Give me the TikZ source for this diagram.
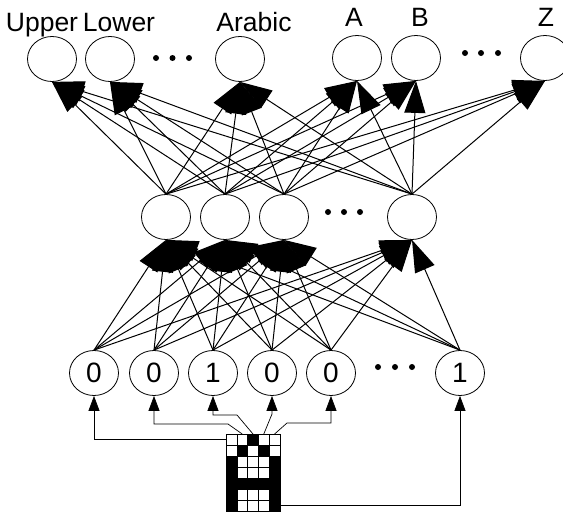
\documentclass[tikz,border=0pt]{standalone}
\usepackage{fontspec}
\setmainfont{Liberation Sans}
\usetikzlibrary{arrows.meta,shapes.geometric}

\begin{document}
\begin{tikzpicture}[x=1pt,y=-1pt,
  unit/.style={draw, ellipse, line width=0.8pt, minimum width=49pt,
    minimum height=45pt, inner sep=0pt, font=\fontsize{28}{28}\selectfont},
  classname/.style={anchor=base, inner sep=0pt, font=\fontsize{26.5}{26.5}\selectfont},
  link/.style={line width=1pt, -{Triangle[length=32pt,width=21pt]}},
  feed/.style={line width=0.7pt, -{Triangle[length=15pt,width=11pt]}},
  cell/.style={draw, line width=0.6pt, minimum width=10.8pt,
    minimum height=11pt, inner sep=0pt, outer sep=0pt},
  dot/.style={circle, fill, inner sep=0pt, minimum size=6pt}
]
\useasboundingbox (0,0) rectangle (563,514);

% output layer
\node[unit] (o1) at (52,59) {};
\node[unit] (o2) at (110,59) {};
\node[unit] (o3) at (240,59) {};
\node[unit] (o4) at (357,58) {};
\node[unit] (o5) at (416,58) {};
\node[unit] (o6) at (545,58) {};
\node[classname] (t1) at (42,31) {Upper};
\node[classname] (t2) at (119,31) {Lower};
\node[classname] (t3) at (254,31) {Arabic};
\node[classname] (t4) at (354,27) {A};
\node[classname] (t5) at (420,27) {B};
\node[classname] (t6) at (546,27) {Z};
\foreach \x [count=\k] in {156,172.5,189}
  \node[dot] (od\k) at (\x,58) {};
\foreach \x [count=\k] in {465,481,498}
  \node[dot] (pd\k) at (\x,53) {};

% hidden layer
\node[unit] (h1) at (166,217) {};
\node[unit] (h2) at (225,217) {};
\node[unit] (h3) at (284,217) {};
\node[unit] (h4) at (412,217) {};
\foreach \x [count=\k] in {328,344,360}
  \node[dot] (hd\k) at (\x,212) {};

% input layer
\node[unit] (i1) at (94,373) {0};
\node[unit] (i2) at (154,373) {0};
\node[unit] (i3) at (213,373) {1};
\node[unit] (i4) at (272,373) {0};
\node[unit] (i5) at (331,373) {0};
\node[unit] (i6) at (460,373) {1};
\foreach \x [count=\k] in {378,395,412}
  \node[dot] (id\k) at (\x,367) {};

% input -> hidden
\foreach \a in {1,...,6}
  \foreach \b in {1,...,4}
    \draw[link] (i\a.north) -- (h\b.south);

% hidden -> output
\foreach \a in {1,...,4}
  \foreach \b in {1,...,6}
    \draw[link] (h\a.north) -- (o\b.south);

% 5x7 pixel grid of the letter
\foreach \r/\row in {0/{white,white,black,white,white},
                     1/{white,black,white,black,white},
                     2/{black,white,white,white,black},
                     3/{black,white,white,white,black},
                     4/{black,black,black,black,black},
                     5/{black,white,white,white,black},
                     6/{black,white,white,white,black}}
  \foreach \v [count=\c from 0] in \row
    \node[cell, fill=\v] (g-\r-\c) at ({231.4+10.8*\c},{439.5+11*\r}) {};

% bends of the feed lines
\coordinate (b2) at (228,424);
\coordinate (b3) at (237,415);
\coordinate (b4) at (272,414);
\coordinate (b5) at (287,423);

% grid -> input units
\draw[feed] (g-0-0.west) -| (i1.south);
\draw[feed] (g-0-1.north) -- (b2) -| (i2.south);
\draw[feed] (g-0-2.north) -- (b3) -| (i3.south);
\draw[feed] (g-0-3.north) -- (b4) -- (i4.south);
\draw[feed] (g-0-4.north) -- (b5) -| (i5.south);
\draw[feed] (g-6-4.east) -| (i6.south);
\end{tikzpicture}
\end{document}
